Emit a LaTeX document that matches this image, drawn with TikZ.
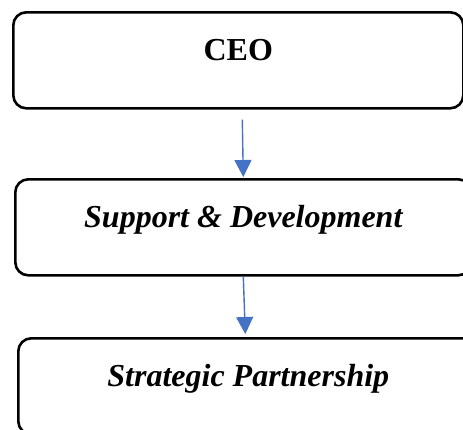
\documentclass[tikz,border=0pt]{standalone}
\usepackage{fontspec}
\setmainfont{Liberation Serif}
\usetikzlibrary{arrows.meta}
\definecolor{flowblue}{RGB}{68,114,196}

\begin{document}
\begin{tikzpicture}[x=1pt,y=-1pt,
		box/.style={draw,line width=2.6pt,rounded corners=13pt,anchor=north west,inner sep=0pt,
			text height=48pt,text depth=48pt,font=\fontsize{32}{38}\selectfont\bfseries},
		flow/.style={flowblue,line width=1.4pt,-{Triangle[width=17pt,length=17pt]}}]
		\useasboundingbox (0,0) rectangle (463,429);
		\clip (0,0) rectangle (463,429);
		\node [box,minimum width=450pt] (ceo) at (12,11) {CEO};
		\node [box,minimum width=456pt] (support) at (14,178) {\itshape Support \& Development};
		\node [box,minimum width=460pt] (partner) at (17,337) {\itshape Strategic Partnership};
		\draw [flow] ([xshift=4pt,yshift=-10pt]ceo.south) to ([yshift=1pt]support.north);
		\draw [flow] (support.south) to ([xshift=-3pt,yshift=3pt]partner.north);
		\end{tikzpicture}
\end{document}
